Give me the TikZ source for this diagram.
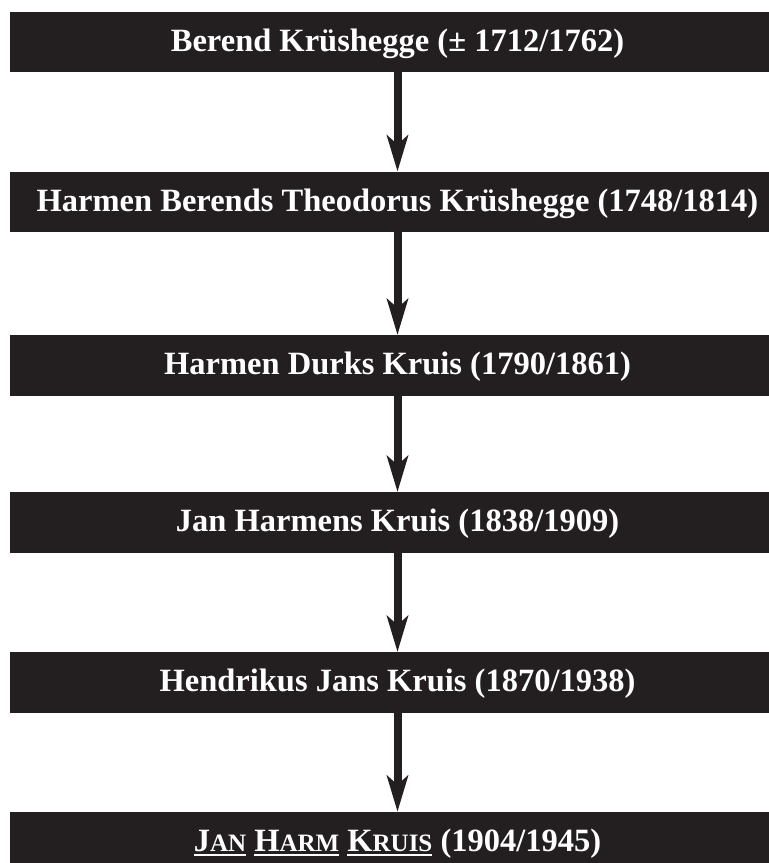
\documentclass[tikz,border=0pt]{standalone}
\usepackage{fontspec}
\setmainfont{Liberation Serif}
\usetikzlibrary{arrows.meta}
\definecolor{boxblack}{HTML}{231F20}
\newcommand\myul[1]{\setbox0\hbox{#1}\rlap{\rule[-4.6pt]{\wd0}{1.8pt}}\box0\relax}
\newcommand\mysc[2]{#1{\fontsize{25}{28}\selectfont #2}}
\tikzset{
  genbox/.style={rectangle, fill=boxblack, draw=none, inner sep=0pt,
    minimum width=775pt, minimum height=60.5pt, text=white,
    font=\fontsize{32.5}{36}\selectfont\bfseries,
    text height=25pt, text depth=6.5pt},
  descent/.style={draw=boxblack, line width=8pt,
    -{Stealth[length=36pt, width=21pt, inset=9pt]}}
}
\begin{document}
\begin{tikzpicture}[x=1pt, y=-1pt]
\useasboundingbox (0,0) rectangle (769,863);
\clip (0,0) rectangle (769,863);
\node[genbox] (b1) at (397.5,42) {Berend Krüshegge (± 1712/1762)};
\node[genbox] (b2) at (397.5,202) {Harmen Berends Theodorus Krüshegge (1748/1814)};
\node[genbox] (b3) at (397.5,365.5) {Harmen Durks Kruis (1790/1861)};
\node[genbox] (b4) at (397.5,522.5) {Jan Harmens Kruis (1838/1909)};
\node[genbox] (b5) at (397.5,682.5) {Hendrikus Jans Kruis (1870/1938)};
\node[genbox] (b6) at (397.5,842.25) {\myul{\mysc{J}{AN}} \myul{\mysc{H}{ARM}} \myul{\mysc{K}{RUIS}} (1904/1945)};
\draw[descent] (b1.south) -- (b2.north);
\draw[descent] (b2.south) -- (b3.north);
\draw[descent] (b3.south) -- (b4.north);
\draw[descent] (b4.south) -- (b5.north);
\draw[descent] (b5.south) -- (b6.north);
\end{tikzpicture}
\end{document}
